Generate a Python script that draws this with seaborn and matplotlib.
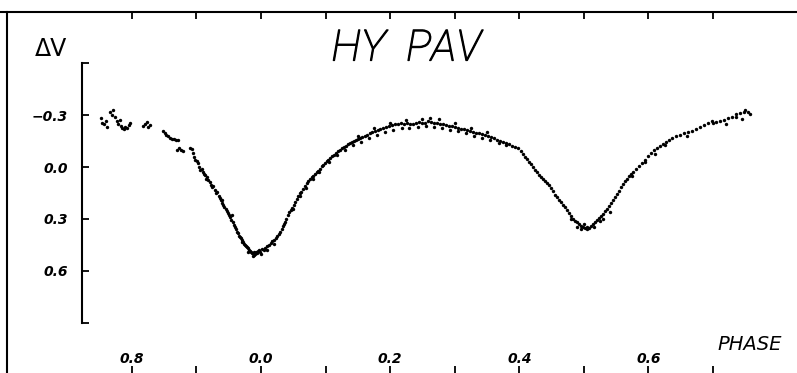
import matplotlib
matplotlib.use('Agg')
import matplotlib.pyplot as plt
import matplotlib.patheffects as pe
import seaborn as sns
import pandas as pd

# --- light curve of HY Pav ---
phase = [-0.248, -0.246, -0.243, -0.240, -0.238, -0.234, -0.231, -0.229, -0.226, -0.223,
         -0.221, -0.218, -0.217, -0.215, -0.212, -0.211, -0.207, -0.204, -0.203, -0.183,
         -0.180, -0.176, -0.175, -0.172, -0.152, -0.149, -0.147, -0.144, -0.141, -0.138,
         -0.135, -0.132, -0.128, -0.130, -0.127, -0.124, -0.121, -0.110, -0.107, -0.105,
         -0.104, -0.102, -0.099, -0.098, -0.096, -0.094, -0.091, -0.090, -0.088, -0.087,
         -0.084, -0.085, -0.082, -0.079, -0.077, -0.076, -0.074, -0.071, -0.070, -0.068,
         -0.065, -0.063, -0.062, -0.060, -0.059, -0.057, -0.054, -0.053, -0.051, -0.050,
         -0.048, -0.046, -0.043, -0.042, -0.040, -0.039, -0.037, -0.036, -0.034, -0.033,
         -0.031, -0.029, -0.028, -0.026, -0.025, -0.023, -0.022, -0.020, -0.019, -0.017,
         -0.015, -0.014, -0.012, -0.011, -0.009, -0.008, -0.006, -0.005, -0.003, -0.002,
         0.002, 0.005, 0.006, 0.009, 0.012, 0.015, 0.017, 0.020, 0.023, 0.025,
         0.028, 0.029, 0.033, 0.034, 0.037, 0.039, 0.042, 0.043, 0.046, 0.048,
         0.051, 0.053, 0.056, 0.057, 0.060, 0.062, 0.065, 0.068, 0.071, 0.073,
         0.076, 0.079, 0.080, 0.084, 0.087, 0.088, 0.091, 0.094, 0.096, 0.099,
         0.102, 0.104, 0.107, 0.110, 0.113, 0.116, 0.119, 0.122, 0.125, 0.128,
         0.132, 0.135, 0.138, 0.141, 0.144, 0.147, 0.150, 0.153, 0.156, 0.161,
         0.164, 0.169, 0.172, 0.176, 0.181, 0.184, 0.189, 0.193, 0.198, 0.203,
         0.207, 0.212, 0.217, 0.221, 0.226, 0.231, 0.235, 0.240, 0.245, 0.249,
         0.254, 0.259, 0.263, 0.268, 0.272, 0.277, 0.282, 0.286, 0.291, 0.296,
         0.300, 0.305, 0.310, 0.314, 0.319, 0.324, 0.328, 0.333, 0.337, 0.342,
         0.347, 0.351, 0.356, 0.361, 0.365, 0.370, 0.375, 0.379, 0.384, 0.389,
         0.393, 0.398, 0.402, 0.406, 0.409, 0.412, 0.415, 0.418, 0.421, 0.424,
         0.427, 0.430, 0.433, 0.437, 0.440, 0.443, 0.446, 0.449, 0.452, 0.455,
         0.458, 0.461, 0.464, 0.467, 0.471, 0.474, 0.477, 0.480, 0.483, 0.486,
         0.489, 0.492, 0.495, 0.498, 0.502, 0.505, 0.508, 0.511, 0.514, 0.517,
         0.520, 0.523, 0.526, 0.529, 0.533, 0.536, 0.539, 0.542, 0.545, 0.548,
         0.551, 0.554, 0.557, 0.560, 0.563, 0.567, 0.570, 0.573, 0.576, 0.580,
         0.585, 0.590, 0.594, 0.599, 0.604, 0.608, 0.613, 0.618, 0.622, 0.627,
         0.632, 0.636, 0.642, 0.649, 0.655, 0.661, 0.667, 0.673, 0.680, 0.686,
         0.692, 0.698, 0.704, 0.711, 0.717, 0.723, 0.729, 0.735, 0.741, 0.748,
         0.754, 0.757]
dmag = [-0.283, -0.254, -0.248, -0.265, -0.231, -0.317, -0.300, -0.329, -0.289, -0.265,
        -0.248, -0.271, -0.237, -0.225, -0.219, -0.231, -0.225, -0.242, -0.254, -0.237,
        -0.248, -0.260, -0.231, -0.242, -0.208, -0.196, -0.185, -0.179, -0.167, -0.162,
        -0.162, -0.156, -0.156, -0.098, -0.110, -0.098, -0.092, -0.110, -0.104, -0.081,
        -0.058, -0.040, -0.035, -0.023, 0.000, 0.017, 0.012, 0.029, 0.040, 0.046,
        0.058, 0.069, 0.075, 0.087, 0.104, 0.115, 0.110, 0.133, 0.150, 0.144,
        0.167, 0.179, 0.190, 0.208, 0.219, 0.231, 0.242, 0.254, 0.265, 0.277,
        0.289, 0.306, 0.317, 0.335, 0.346, 0.358, 0.375, 0.381, 0.398, 0.404,
        0.410, 0.421, 0.433, 0.444, 0.450, 0.456, 0.462, 0.467, 0.479, 0.485,
        0.490, 0.496, 0.514, 0.508, 0.502, 0.490, 0.496, 0.485, 0.479, 0.490,
        0.473, 0.479, 0.467, 0.456, 0.450, 0.438, 0.427, 0.421, 0.410, 0.398,
        0.387, 0.375, 0.358, 0.340, 0.317, 0.300, 0.277, 0.260, 0.248, 0.237,
        0.219, 0.202, 0.185, 0.167, 0.150, 0.144, 0.127, 0.110, 0.092, 0.081,
        0.069, 0.058, 0.052, 0.040, 0.029, 0.023, 0.012, -0.006, -0.012, -0.023,
        -0.035, -0.040, -0.052, -0.063, -0.069, -0.081, -0.092, -0.098, -0.110, -0.115,
        -0.121, -0.133, -0.138, -0.144, -0.150, -0.156, -0.162, -0.167, -0.173, -0.179,
        -0.185, -0.196, -0.202, -0.208, -0.214, -0.219, -0.225, -0.231, -0.237, -0.242,
        -0.248, -0.248, -0.254, -0.248, -0.254, -0.248, -0.248, -0.254, -0.260, -0.254,
        -0.254, -0.265, -0.260, -0.254, -0.254, -0.248, -0.248, -0.242, -0.237, -0.237,
        -0.231, -0.225, -0.219, -0.219, -0.214, -0.208, -0.202, -0.196, -0.196, -0.190,
        -0.185, -0.179, -0.173, -0.167, -0.156, -0.150, -0.144, -0.138, -0.133, -0.121,
        -0.115, -0.110, -0.092, -0.075, -0.058, -0.046, -0.029, -0.017, 0.000, 0.017,
        0.029, 0.046, 0.058, 0.069, 0.081, 0.092, 0.104, 0.121, 0.138, 0.162,
        0.173, 0.190, 0.202, 0.219, 0.231, 0.248, 0.265, 0.283, 0.300, 0.312,
        0.317, 0.329, 0.340, 0.346, 0.352, 0.358, 0.352, 0.340, 0.329, 0.317,
        0.306, 0.294, 0.283, 0.271, 0.254, 0.242, 0.225, 0.208, 0.190, 0.173,
        0.156, 0.138, 0.115, 0.098, 0.081, 0.069, 0.052, 0.040, 0.029, 0.012,
        -0.006, -0.023, -0.040, -0.063, -0.081, -0.098, -0.110, -0.121, -0.133, -0.144,
        -0.156, -0.167, -0.179, -0.185, -0.196, -0.202, -0.208, -0.219, -0.231, -0.242,
        -0.254, -0.265, -0.260, -0.265, -0.271, -0.283, -0.289, -0.306, -0.312, -0.317,
        -0.317, -0.306]

# extra scattered observations around the mean curve
phase_extra = [0.105, 0.118, 0.130, 0.142, 0.155, 0.167, 0.180, 0.192, 0.205, 0.218,
               0.230, 0.243, 0.255, 0.268, 0.280, 0.293, 0.305, 0.318, 0.330, 0.343,
               0.355, 0.368, 0.380, 0.150, 0.175, 0.200, 0.225, 0.250, 0.262, 0.275,
               0.300, 0.325, 0.350, -0.060, -0.045, -0.030, -0.020, -0.010, 0.000, 0.010,
               0.020, 0.035, 0.050, 0.060, 0.070, 0.080, 0.090, 0.480, 0.495, 0.505,
               0.515, 0.525, 0.530, 0.540, 0.500, 0.490, 0.575, 0.595, 0.610, 0.625,
               0.660, 0.700, 0.720, 0.735, 0.745, 0.750]
dmag_extra = [-0.030, -0.070, -0.100, -0.125, -0.145, -0.165, -0.185, -0.200, -0.215, -0.225,
              -0.228, -0.232, -0.235, -0.232, -0.228, -0.215, -0.205, -0.195, -0.180, -0.170,
              -0.158, -0.140, -0.125, -0.180, -0.225, -0.255, -0.270, -0.280, -0.285, -0.275,
              -0.255, -0.225, -0.200, 0.190, 0.275, 0.430, 0.490, 0.490, 0.500, 0.480,
              0.445, 0.330, 0.240, 0.170, 0.120, 0.070, 0.030, 0.300, 0.355, 0.345,
              0.345, 0.310, 0.300, 0.260, 0.330, 0.345, 0.050, -0.030, -0.075, -0.125,
              -0.180, -0.255, -0.250, -0.290, -0.280, -0.330]

xticks = [-0.2, -0.1, 0.0, 0.1, 0.2, 0.3, 0.4, 0.5, 0.6, 0.7]
xtick_labels = ['0.8', '', '0.0', '', '0.2', '', '0.4', '', '0.6', '']
yticks = [-0.6, -0.3, 0.0, 0.3, 0.6, 0.9]
ytick_labels = ['', '\u22120.3', '0.0', '0.3', '0.6', '']

df = pd.DataFrame({'phase': phase + phase_extra, 'dV': dmag + dmag_extra})

sns.set_style('white')
plt.rcParams['font.family'] = ['DejaVu Sans']
plt.rcParams['text.color'] = 'black'
plt.rcParams['xtick.color'] = 'black'
plt.rcParams['ytick.color'] = 'black'

W, H = 797, 373
fig = plt.figure(figsize=(W / 100, H / 100), dpi=100)

# outer frame (left edge only; the top edge is the main axes' top spine)
frame = fig.add_axes([7 / W, -0.1, 1, 1.1 - 12 / H])
frame.set_xticks([])
frame.set_yticks([])
for side in ['top', 'right', 'bottom']:
    frame.spines[side].set_visible(False)
frame.spines['left'].set_linewidth(1.5)
frame.spines['left'].set_color('black')

ax = fig.add_axes([0, 0, 1, 1])
ax.patch.set_alpha(0)
sns.scatterplot(data=df, x='phase', y='dV', ax=ax, color='black', s=6,
                linewidth=0, marker='o', legend=False)
ax.set_xlim(-0.404, 0.830)
ax.set_ylim(1.189, -0.964)
ax.set_xlabel('')
ax.set_ylabel('')

ax.spines['right'].set_visible(False)
ax.spines['bottom'].set_visible(False)
ax.spines['top'].set_position(('axes', 1 - 12 / H))
ax.spines['top'].set_linewidth(1.5)
ax.spines['top'].set_color('black')
ax.spines['left'].set_position(('data', -0.277))
ax.spines['left'].set_bounds(-0.6, 0.9)
ax.spines['left'].set_linewidth(1.5)
ax.spines['left'].set_color('black')

ax.set_xticks(xticks)
ax.set_xticklabels(xtick_labels, fontsize=10, fontweight='bold', fontstyle='italic')
ax.set_yticks(yticks)
ax.set_yticklabels(ytick_labels, fontsize=10, fontweight='bold', fontstyle='italic')
ax.tick_params(axis='x', top=True, bottom=True, direction='in', length=5, width=1.3,
               color='black', pad=-15, labeltop=False, labelbottom=True)
ax.tick_params(axis='y', left=True, direction='in', length=5, width=1.3,
               color='black', pad=10)

# thin plotter-style title: hairline face thickened a little with a stroke
fig.text(406 / W, 1 - 49 / H, 'HY  PAV', ha='center', va='center', fontsize=31,
         family=['Roboto', 'DejaVu Sans'], fontweight='light', fontstyle='italic',
         color='black',
         path_effects=[pe.withStroke(linewidth=0.9, foreground='black')])
fig.text(51 / W, 1 - 49 / H, '\u0394V', ha='center', va='center', fontsize=17)
fig.text(750 / W, 1 - 345 / H, 'PHASE', ha='center', va='center', fontsize=14,
         fontstyle='italic')

fig.savefig('out.png', dpi=100)
